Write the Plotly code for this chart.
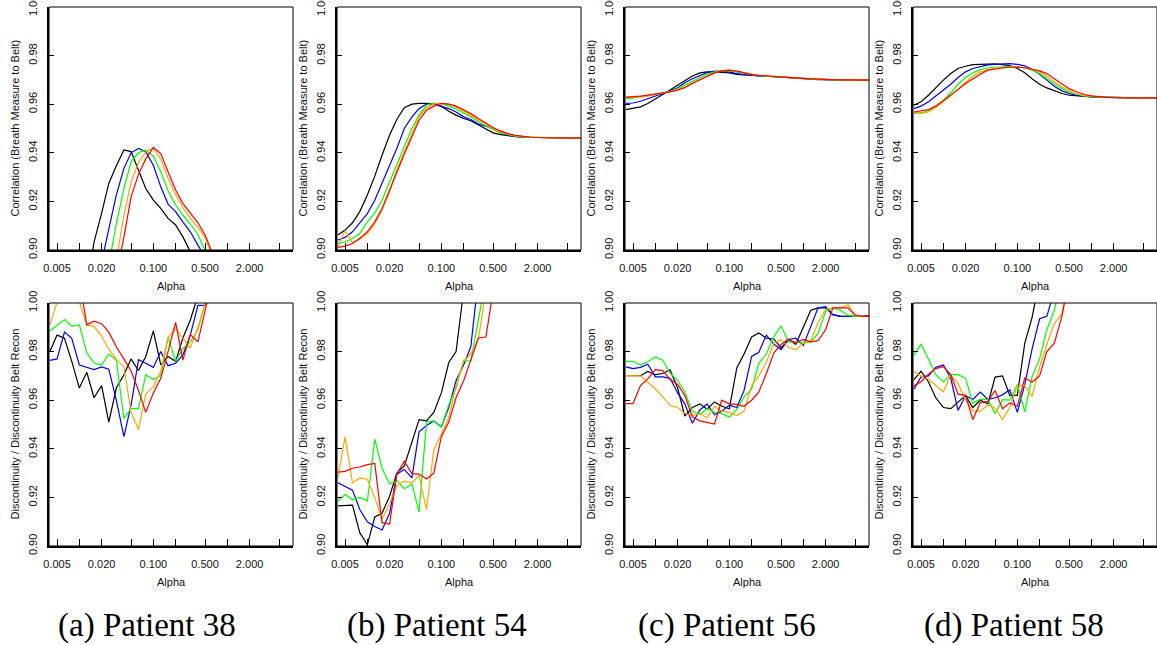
import plotly.graph_objects as go

W, H = 1157, 645

ALPHA = [0.004, 0.005, 0.0063, 0.0079, 0.01, 0.0126, 0.0158, 0.02, 0.025, 0.0316,
         0.04, 0.05, 0.063, 0.079, 0.1, 0.126, 0.158, 0.2, 0.25, 0.316,
         0.4, 0.5, 0.63, 0.79, 1.0, 1.26, 1.58, 2.0, 2.5, 3.16,
         4.0, 5.0, 6.3, 7.9]

SERIES_NAMES = ["black", "blue", "green", "orange", "red"]
SERIES_COLORS = ["#000000", "#0000FF", "#00FF00", "#FFA500", "#FF0000"]

PANEL_LABELS = ["(a) Patient 38", "(b) Patient 54", "(c) Patient 56", "(d) Patient 58"]
TOP_TITLE = "Correlation (Breath Measure to Belt)"
BOTTOM_TITLE = "Discontinuity / Discontinuity Belt Recon"
X_TITLE = "Alpha"

X_TICKS = [0.005, 0.01, 0.02, 0.05, 0.1, 0.2, 0.5, 1, 2, 5]
X_TICKTEXT = ["0.005", "", "0.020", "", "0.100", "", "0.500", "", "2.000", ""]
Y_TICKS = [0.90, 0.92, 0.94, 0.96, 0.98, 1.00]
Y_TICKTEXT = ["0.90", "0.92", "0.94", "0.96", "0.98", "1.00"]

N = None
# ---- Top row: correlation ----
P38_CORR = [
    [N, N, N, N, N, 0.885, 0.9032, 0.9152, 0.9274, 0.9347, 0.9412, 0.9405, 0.9329, 0.9253, 0.9205, 0.9171, 0.913, 0.9103, 0.9055, 0.8997, 0.893],
    [N, N, N, N, N, N, 0.885, 0.895, 0.9086, 0.9226, 0.9336, 0.9400, 0.9418, 0.9404, 0.9349, 0.926, 0.9189, 0.9158, 0.9116, 0.9075, 0.902, 0.897, 0.89],
    [N, N, N, N, N, N, N, 0.885, 0.894, 0.9107, 0.9253, 0.9363, 0.9401, 0.9411, 0.9386, 0.9322, 0.9244, 0.9185, 0.9144, 0.9107, 0.9064, 0.8997, 0.892],
    [N, N, N, N, N, N, N, N, 0.885, 0.896, 0.9142, 0.9281, 0.9359, 0.9404, 0.942, 0.9373, 0.9295, 0.9226, 0.9175, 0.913, 0.9093, 0.9052, 0.897],
    [N, N, N, N, N, N, N, N, 0.882, 0.89, 0.9052, 0.9219, 0.9311, 0.9375, 0.9422, 0.9397, 0.9322, 0.9247, 0.9192, 0.915, 0.9112, 0.9062, 0.8986],
]
P54_CORR = [
    [0.9062, 0.9082, 0.9112, 0.9158, 0.9226, 0.9304, 0.939, 0.9473, 0.9537, 0.9586, 0.960, 0.9603, 0.9603, 0.960, 0.9592, 0.9571, 0.9555, 0.9541, 0.9532, 0.9514, 0.9496, 0.9482, 0.9475, 0.947, 0.9466, 0.9464, 0.9463, 0.9462, 0.9461, 0.946, 0.946, 0.946, 0.946, 0.946],
    [0.9041, 0.9052, 0.9075, 0.911, 0.915, 0.9205, 0.9274, 0.9349, 0.9418, 0.950, 0.9548, 0.9582, 0.960, 0.960, 0.9592, 0.9582, 0.9568, 0.9548, 0.9537, 0.9518, 0.951, 0.950, 0.9482, 0.9473, 0.9468, 0.9465, 0.9464, 0.9463, 0.9462, 0.9461, 0.946, 0.946, 0.946, 0.946],
    [0.9027, 0.9034, 0.9047, 0.9068, 0.9116, 0.9153, 0.9205, 0.928, 0.9356, 0.9432, 0.950, 0.9555, 0.9596, 0.9605, 0.9603, 0.9592, 0.958, 0.9564, 0.9548, 0.9527, 0.951, 0.9496, 0.9482, 0.9474, 0.9468, 0.9465, 0.9464, 0.9463, 0.9462, 0.9461, 0.946, 0.946, 0.946, 0.946],
    [0.9014, 0.908, 0.903, 0.9044, 0.9068, 0.9107, 0.9164, 0.924, 0.9329, 0.9404, 0.948, 0.9548, 0.9586, 0.960, 0.9603, 0.9599, 0.9589, 0.9573, 0.9555, 0.9534, 0.9516, 0.950, 0.9486, 0.9477, 0.947, 0.9466, 0.9464, 0.9463, 0.9462, 0.9461, 0.946, 0.946, 0.946, 0.946],
    [0.9011, 0.9016, 0.9027, 0.9048, 0.9075, 0.9116, 0.9171, 0.9247, 0.9326, 0.9395, 0.9466, 0.9534, 0.9575, 0.9592, 0.9603, 0.960, 0.9592, 0.9578, 0.9562, 0.9541, 0.9521, 0.9504, 0.949, 0.9479, 0.9472, 0.9467, 0.9465, 0.9463, 0.9462, 0.9461, 0.946, 0.946, 0.946, 0.946],
]
P56_CORR = [
    [0.9578, 0.9582, 0.9589, 0.9603, 0.9623, 0.964, 0.9658, 0.9678, 0.9699, 0.9716, 0.9729, 0.9733, 0.9733, 0.9732, 0.9729, 0.9723, 0.972, 0.9718, 0.9716, 0.9715, 0.9713, 0.971, 0.9708, 0.9705, 0.9704, 0.9703, 0.9701, 0.9701, 0.97, 0.97, 0.97, 0.97, 0.9699, 0.9699],
    [0.9603, 0.9605, 0.9612, 0.9622, 0.9633, 0.9644, 0.9655, 0.9668, 0.9688, 0.9705, 0.9719, 0.973, 0.9736, 0.9735, 0.9733, 0.9726, 0.9722, 0.9718, 0.9716, 0.9715, 0.9713, 0.9711, 0.9708, 0.9707, 0.9705, 0.9704, 0.9703, 0.9701, 0.97, 0.97, 0.97, 0.97, 0.9699, 0.9699],
    [0.9622, 0.9625, 0.9629, 0.9634, 0.9641, 0.9647, 0.9653, 0.9664, 0.9678, 0.9695, 0.971, 0.9723, 0.9733, 0.9737, 0.9737, 0.9732, 0.9726, 0.9721, 0.9718, 0.9715, 0.9714, 0.9711, 0.971, 0.9707, 0.9705, 0.9704, 0.9703, 0.9701, 0.97, 0.97, 0.97, 0.97, 0.9699, 0.9699],
    [0.9627, 0.9628, 0.963, 0.9634, 0.9641, 0.9645, 0.9651, 0.966, 0.9671, 0.9688, 0.9703, 0.9718, 0.973, 0.9737, 0.974, 0.9736, 0.9729, 0.9723, 0.9719, 0.9716, 0.9714, 0.9712, 0.971, 0.9708, 0.9705, 0.9704, 0.9703, 0.9701, 0.97, 0.97, 0.97, 0.97, 0.9699, 0.9699],
    [0.9629, 0.963, 0.9633, 0.9637, 0.9641, 0.9647, 0.9651, 0.9658, 0.9668, 0.9685, 0.9701, 0.9715, 0.9729, 0.9737, 0.974, 0.9736, 0.9729, 0.9723, 0.9719, 0.9716, 0.9714, 0.9712, 0.971, 0.9708, 0.9705, 0.9704, 0.9703, 0.9701, 0.97, 0.97, 0.97, 0.97, 0.9699, 0.9699],
]
P58_CORR = [
    [0.9596, 0.961, 0.9637, 0.9668, 0.9699, 0.9726, 0.9747, 0.9756, 0.9763, 0.9764, 0.9765, 0.9766, 0.9763, 0.9759, 0.9747, 0.9729, 0.9705, 0.9682, 0.9667, 0.9655, 0.9644, 0.9637, 0.9634, 0.9632, 0.963, 0.9629, 0.9628, 0.9627, 0.9627, 0.9626, 0.9626, 0.9626, 0.9626, 0.9626],
    [0.9582, 0.9592, 0.961, 0.9633, 0.9658, 0.9682, 0.971, 0.9733, 0.9747, 0.9756, 0.9762, 0.9764, 0.9766, 0.9767, 0.9764, 0.9758, 0.9744, 0.9723, 0.9699, 0.9674, 0.9655, 0.9644, 0.9637, 0.9633, 0.963, 0.9629, 0.9628, 0.9627, 0.9627, 0.9626, 0.9626, 0.9626, 0.9626, 0.9626],
    [0.9564, 0.9564, 0.9573, 0.9592, 0.9616, 0.9647, 0.9682, 0.971, 0.9729, 0.9742, 0.9749, 0.9753, 0.9754, 0.9756, 0.9753, 0.9749, 0.974, 0.9726, 0.9705, 0.9685, 0.9664, 0.9649, 0.964, 0.9634, 0.963, 0.9629, 0.9628, 0.9627, 0.9627, 0.9626, 0.9626, 0.9626, 0.9626, 0.9626],
    [0.9562, 0.9562, 0.9568, 0.9586, 0.961, 0.9637, 0.9664, 0.9692, 0.9715, 0.9733, 0.9742, 0.9749, 0.9751, 0.9753, 0.9753, 0.975, 0.9744, 0.9733, 0.9715, 0.9692, 0.9671, 0.9655, 0.9643, 0.9636, 0.9632, 0.963, 0.9628, 0.9627, 0.9627, 0.9626, 0.9626, 0.9626, 0.9626, 0.9626],
    [0.9568, 0.9573, 0.9578, 0.9592, 0.9614, 0.9637, 0.966, 0.9685, 0.9705, 0.9723, 0.974, 0.9745, 0.9749, 0.9752, 0.9753, 0.975, 0.9744, 0.9737, 0.9726, 0.9705, 0.9682, 0.9664, 0.9651, 0.9641, 0.9634, 0.963, 0.9628, 0.9627, 0.9627, 0.9626, 0.9626, 0.9626, 0.9626, 0.9626],
]

# ---- Bottom row: discontinuity ratio ----
P38_DISC = [
    [0.980, 0.9868, 0.9855, 0.976, 0.965, 0.9715, 0.961, 0.966, 0.951, 0.965, 0.9705, 0.977, 0.9722, 0.978, 0.9885, 0.9745, 0.978, 0.976, 0.9855, 0.993, 1.003, 1.01],
    [0.9764, 0.977, 0.988, 0.9855, 0.9745, 0.9735, 0.9726, 0.9737, 0.9728, 0.960, 0.945, 0.958, 0.9767, 0.9752, 0.9735, 0.980, 0.9742, 0.9752, 0.9785, 0.9868, 0.999, 0.999, 1.01],
    [0.9885, 0.991, 0.9932, 0.9905, 0.991, 0.9795, 0.9753, 0.9745, 0.979, 0.9765, 0.9525, 0.9565, 0.9565, 0.9705, 0.9685, 0.9702, 0.986, 0.976, 0.9812, 0.984, 0.989, 1.0, 1.01],
    [0.991, 1.0, 1.01, 1.01, 1.0, 0.991, 0.9904, 0.9864, 0.981, 0.9768, 0.9738, 0.955, 0.948, 0.9625, 0.9655, 0.972, 0.9858, 0.9895, 0.9855, 0.9815, 0.990, 1.0, 1.01],
    [N, N, N, N, 1.01, 0.991, 0.9925, 0.9915, 0.988, 0.982, 0.977, 0.972, 0.964, 0.955, 0.963, 0.969, 0.980, 0.992, 0.9765, 0.987, 0.984, 0.998, 1.01],
]
P54_DISC = [
    [0.9165, 0.9166, 0.9168, 0.9055, 0.9005, 0.912, 0.9135, 0.9205, 0.930, 0.933, 0.9425, 0.952, 0.9515, 0.955, 0.963, 0.9755, 0.980, 1.005],
    [0.926, 0.9244, 0.923, 0.915, 0.910, 0.908, 0.9066, 0.9135, 0.9295, 0.9315, 0.928, 0.947, 0.9496, 0.9514, 0.949, 0.957, 0.968, 0.9745, 0.982, 1.01],
    [0.9185, 0.9212, 0.919, 0.920, 0.9185, 0.944, 0.932, 0.9255, 0.927, 0.9236, 0.9255, 0.914, 0.951, 0.9515, 0.949, 0.958, 0.965, 0.9765, 0.976, 0.992, 1.01],
    [0.9281, 0.945, 0.926, 0.928, 0.9275, 0.920, 0.911, 0.9175, 0.925, 0.9267, 0.926, 0.929, 0.915, 0.9395, 0.946, 0.953, 0.966, 0.976, 0.979, 0.985, 1.005],
    [0.9304, 0.9307, 0.932, 0.9325, 0.9335, 0.934, 0.9096, 0.909, 0.9295, 0.9349, 0.9298, 0.9296, 0.9276, 0.930, 0.945, 0.951, 0.961, 0.968, 0.9765, 0.9856, 0.986, 1.005],
]
P56_DISC = [
    [0.9701, 0.9701, 0.9701, 0.9718, 0.9705, 0.971, 0.9725, 0.965, 0.9535, 0.957, 0.9585, 0.9563, 0.9593, 0.9575, 0.9565, 0.9733, 0.979, 0.986, 0.9877, 0.9855, 0.9852, 0.9815, 0.985, 0.983, 0.990, 0.997, 0.998, 0.998, 0.9952, 0.9945, 0.9945, 0.9945, 0.9945, 0.995],
    [0.9737, 0.973, 0.9735, 0.9748, 0.9696, 0.9696, 0.969, 0.963, 0.9585, 0.9505, 0.956, 0.9585, 0.954, 0.9555, 0.958, 0.957, 0.964, 0.978, 0.9797, 0.9868, 0.983, 0.9808, 0.985, 0.9855, 0.9825, 0.990, 0.998, 0.9985, 0.9952, 0.9945, 0.9945, 0.9945, 0.9945, 0.9945],
    [0.976, 0.976, 0.9745, 0.9758, 0.9778, 0.9765, 0.9712, 0.968, 0.9635, 0.9555, 0.9541, 0.9565, 0.955, 0.9545, 0.953, 0.9562, 0.9614, 0.9645, 0.9752, 0.979, 0.9863, 0.9905, 0.984, 0.984, 0.9835, 0.984, 0.9875, 0.9966, 0.998, 0.997, 0.995, 0.9945, 0.9945, 0.9945],
    [0.9701, 0.9701, 0.970, 0.9674, 0.9647, 0.9614, 0.9578, 0.957, 0.9545, 0.9538, 0.9545, 0.9527, 0.9575, 0.9555, 0.955, 0.9537, 0.9555, 0.966, 0.970, 0.9756, 0.9836, 0.9849, 0.9817, 0.9808, 0.9835, 0.9845, 0.992, 0.9973, 0.998, 0.998, 0.9993, 0.995, 0.9945, 0.9945],
    [0.9586, 0.9586, 0.966, 0.9688, 0.9726, 0.9722, 0.9686, 0.9665, 0.962, 0.9532, 0.9515, 0.951, 0.9502, 0.960, 0.9585, 0.9583, 0.9575, 0.960, 0.9633, 0.971, 0.9795, 0.9829, 0.9852, 0.9835, 0.985, 0.984, 0.9845, 0.989, 0.998, 0.998, 0.998, 0.995, 0.9945, 0.9945],
]
P58_DISC = [
    [0.9685, 0.9719, 0.9675, 0.961, 0.957, 0.9565, 0.9592, 0.9619, 0.957, 0.960, 0.9585, 0.9695, 0.970, 0.962, 0.962, 0.9835, 0.994, 1.01],
    [0.9645, 0.9696, 0.970, 0.9735, 0.9745, 0.969, 0.9558, 0.9618, 0.9603, 0.9633, 0.9603, 0.961, 0.9622, 0.9643, 0.955, 0.9665, 0.981, 0.9935, 0.9945, 1.005],
    [0.9785, 0.983, 0.977, 0.9705, 0.9675, 0.9705, 0.9705, 0.969, 0.9588, 0.9603, 0.9603, 0.9545, 0.9602, 0.960, 0.9665, 0.9552, 0.9697, 0.977, 0.989, 0.997, 1.01],
    [0.9718, 0.970, 0.9686, 0.966, 0.9635, 0.9705, 0.9668, 0.960, 0.9556, 0.9555, 0.958, 0.9568, 0.952, 0.957, 0.966, 0.966, 0.9615, 0.9738, 0.983, 0.9915, 0.9955, 1.01],
    [0.9659, 0.9676, 0.9707, 0.973, 0.9738, 0.9705, 0.9625, 0.962, 0.952, 0.959, 0.9595, 0.964, 0.9565, 0.9589, 0.9575, 0.9692, 0.9675, 0.970, 0.980, 0.9835, 0.9945, 1.01],
]

PANELS = [P38_CORR, P54_CORR, P56_CORR, P58_CORR, P38_DISC, P54_DISC, P56_DISC, P58_DISC]

# ---- layout geometry (pixels) ----
COL_LEFT = [49, 337, 625, 913]
PLOT_W = 244
ROW_TOP = [7, 303]
PLOT_H = 243
X_RANGE = [-2.41, 0.887]
CAPTION_X = [147, 437, 727, 1014]
CAPTION_Y = 625

FONT = "Liberation Sans, Arial, Helvetica, sans-serif"

fig = go.Figure()
layout = dict(
    width=W, height=H,
    margin=dict(l=0, r=0, t=0, b=0, pad=0, autoexpand=False),
    paper_bgcolor="white", plot_bgcolor="white", showlegend=False,
    font=dict(family=FONT, size=11, color="#000"),
)
shapes, annotations = [], []

for i, data in enumerate(PANELS):
    n = i + 1
    row, col = divmod(i, 4)
    x0 = COL_LEFT[col] / W
    x1 = min(1.0, (COL_LEFT[col] + PLOT_W) / W)
    y1 = 1 - ROW_TOP[row] / H
    y0 = 1 - (ROW_TOP[row] + PLOT_H) / H
    xa = "x" if n == 1 else f"x{n}"
    ya = "y" if n == 1 else f"y{n}"
    for vals, name, color in zip(data, SERIES_NAMES, SERIES_COLORS):
        xs = ALPHA[:len(vals)]
        fig.add_trace(go.Scatter(x=xs, y=vals, mode="lines", name=name,
                                 line=dict(color=color, width=1.2),
                                 connectgaps=False, xaxis=xa, yaxis=ya,
                                 hoverinfo="skip"))
    layout["xaxis" if n == 1 else f"xaxis{n}"] = dict(
        domain=[x0, x1], anchor=ya, type="log", range=X_RANGE,
        tickvals=X_TICKS, ticktext=X_TICKTEXT, ticks="inside", ticklen=7,
        tickwidth=1, tickcolor="#000", showgrid=False, zeroline=False,
        showline=True, linecolor="#000", linewidth=2, automargin=False,
        tickfont=dict(family=FONT, size=11, color="#111"), ticklabelstandoff=7,
        ticklabeloverflow="allow",
    )
    layout["yaxis" if n == 1 else f"yaxis{n}"] = dict(
        domain=[y0, y1], anchor=xa, range=[0.90, 1.00],
        tickvals=Y_TICKS, ticktext=Y_TICKTEXT, ticks="inside", ticklen=5,
        tickwidth=1, tickcolor="#000", showgrid=False, zeroline=False,
        showline=True, linecolor="#000", linewidth=2, tickangle=-90, automargin=False,
        tickfont=dict(family=FONT, size=11, color="#111"), ticklabelstandoff=6,
        ticklabeloverflow="allow",
    )
    shapes.append(dict(type="rect", xref=f"{xa} domain", yref=f"{ya} domain",
                       x0=0, x1=1, y0=0, y1=1, line=dict(color="#000", width=1),
                       layer="above"))
    annotations.append(dict(text=X_TITLE, xref=f"{xa} domain", yref=f"{ya} domain",
                            x=0.5, y=0, yshift=-36, xanchor="center", yanchor="middle",
                            showarrow=False, font=dict(family=FONT, size=11, color="#111")))
    annotations.append(dict(text=TOP_TITLE if row == 0 else BOTTOM_TITLE,
                            xref=f"{xa} domain", yref=f"{ya} domain",
                            x=0, xshift=-35, y=0.5, xanchor="center", yanchor="middle",
                            textangle=-90, showarrow=False,
                            font=dict(family=FONT, size=11, color="#111")))

for label, cx in zip(PANEL_LABELS, CAPTION_X):
    annotations.append(dict(text=label, xref="paper", yref="paper",
                            x=cx / W, y=1 - CAPTION_Y / H, xanchor="center", yanchor="middle",
                            showarrow=False,
                            font=dict(family="Liberation Serif, Times New Roman, serif", size=33, color="#000")))

layout["shapes"] = shapes
layout["annotations"] = annotations
fig.update_layout(**layout)
fig.write_html("out.html", config={"displayModeBar": False},
               post_script="document.body.style.margin='0';document.body.style.padding='0';")
